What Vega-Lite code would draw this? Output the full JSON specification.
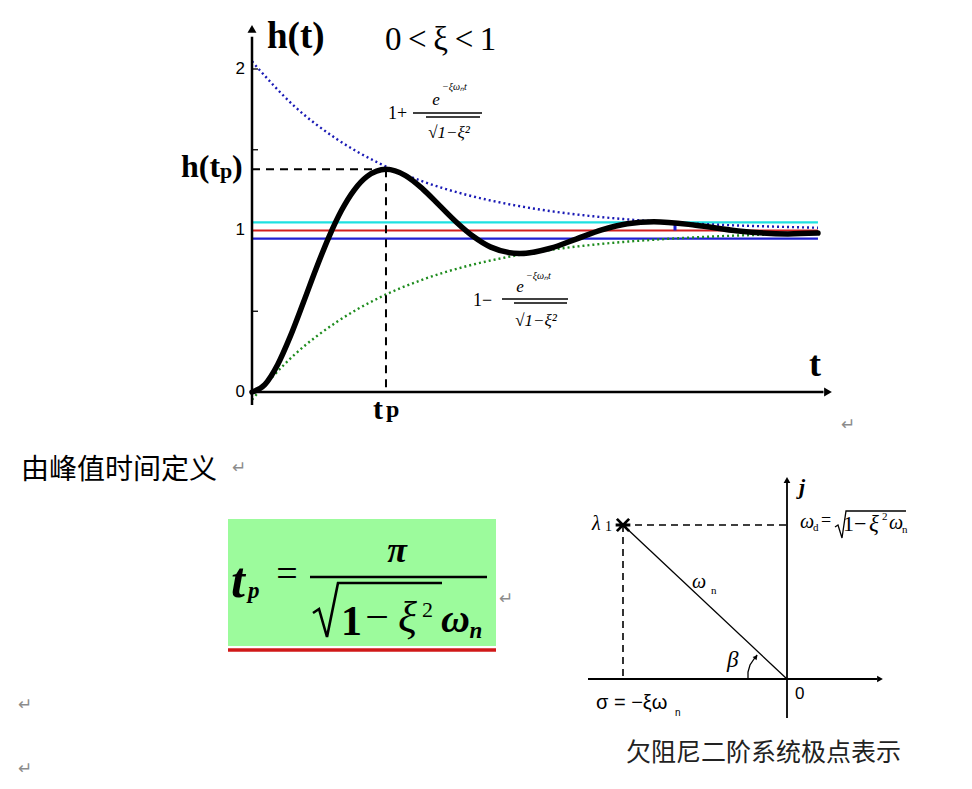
{
 "$schema": "https://vega.github.io/schema/vega-lite/v6.json",
 "width": 972, "height": 789,
 "autosize": {"type": "fit", "contains": "padding"},
 "padding": 0,
 "background": "#ffffff",
 "config": {"view": {"stroke": null}},
 "encoding": {
   "x": {"field": "t", "type": "quantitative", "scale": {"domain": [-5.90856, 16.8816], "nice": false, "zero": false}, "axis": null},
   "y": {"field": "h", "type": "quantitative", "scale": {"domain": [-2.4582, 2.42724], "nice": false, "zero": false}, "axis": null}
 },
 "layer": [
  {"data": {"values": [{"t": -0.5627, "t2": 5.721, "h": -0.7864, "h2": -1.5728}]},
   "mark": {"type": "rect", "color": "#9cfb9c"},
   "encoding": {"x2": {"field": "t2"}, "y2": {"field": "h2"}}},
  {"data": {"values": [
     {"t": 0, "t2": 13.27, "h": 1.05, "level": "+5%"},
     {"t": 0, "t2": 13.27, "h": 1.0, "level": "steady"},
     {"t": 0, "t2": 13.27, "h": 0.95, "level": "-5%"}]},
   "mark": {"type": "rule", "strokeWidth": 2.2},
   "encoding": {"x2": {"field": "t2"},
     "color": {"field": "level", "type": "nominal", "scale": {"domain": ["+5%", "steady", "-5%"], "range": ["#1fe0e0", "#d21f1f", "#1f1fd2"]}, "legend": null}}},
  {"data": {"values": [{"t": 9.918, "h": 1.0, "h2": 1.05}]},
   "mark": {"type": "rule", "color": "#1f1fd2", "strokeWidth": 3},
   "encoding": {"y2": {"field": "h2"}}},
  {"data": {"values": [
     {"t": 0, "h": 2.047}, {"t": 1, "h": 1.768}, {"t": 2, "h": 1.564}, {"t": 3, "h": 1.414},
     {"t": 4, "h": 1.304}, {"t": 5, "h": 1.223}, {"t": 6, "h": 1.164}, {"t": 7, "h": 1.12},
     {"t": 8, "h": 1.088}, {"t": 9, "h": 1.065}, {"t": 10, "h": 1.048}, {"t": 11, "h": 1.035},
     {"t": 12, "h": 1.026}, {"t": 13.27, "h": 1.017}]},
   "mark": {"type": "line", "color": "#1a1ab5", "strokeDash": [2, 3], "strokeWidth": 2.4, "interpolate": "monotone"},
   "encoding": {}},
  {"data": {"values": [
     {"t": 0, "h": -0.047}, {"t": 1, "h": 0.232}, {"t": 2, "h": 0.436}, {"t": 3, "h": 0.586},
     {"t": 4, "h": 0.696}, {"t": 5, "h": 0.777}, {"t": 6, "h": 0.836}, {"t": 7, "h": 0.88},
     {"t": 8, "h": 0.912}, {"t": 9, "h": 0.935}, {"t": 10, "h": 0.952}, {"t": 11, "h": 0.965},
     {"t": 12, "h": 0.974}, {"t": 13.27, "h": 0.983}]},
   "mark": {"type": "line", "color": "#1e8c1e", "strokeDash": [2, 3], "strokeWidth": 2.4, "interpolate": "monotone"},
   "encoding": {}},
  {"data": {"values": [
     {"t": 0, "h": 0}, {"t": 0.3, "h": 0.046}, {"t": 0.6, "h": 0.169}, {"t": 0.9, "h": 0.346},
     {"t": 1.2, "h": 0.551}, {"t": 1.5, "h": 0.762}, {"t": 1.8, "h": 0.958}, {"t": 2.1, "h": 1.125},
     {"t": 2.4, "h": 1.252}, {"t": 2.7, "h": 1.335}, {"t": 3.1416, "h": 1.379}, {"t": 3.6, "h": 1.34},
     {"t": 4.0, "h": 1.258}, {"t": 4.4, "h": 1.154}, {"t": 4.8, "h": 1.05}, {"t": 5.2, "h": 0.961},
     {"t": 5.6, "h": 0.897}, {"t": 6.2832, "h": 0.857}, {"t": 7.0, "h": 0.89}, {"t": 7.6, "h": 0.947},
     {"t": 8.2, "h": 1.004}, {"t": 8.8, "h": 1.042}, {"t": 9.4248, "h": 1.054}, {"t": 10.4, "h": 1.033},
     {"t": 11.4, "h": 0.997}, {"t": 12.566, "h": 0.979}, {"t": 13.27, "h": 0.984}]},
   "mark": {"type": "line", "color": "#000000", "strokeWidth": 5.5, "strokeCap": "round", "strokeJoin": "round", "interpolate": "monotone"},
   "encoding": {}},
  {"data": {"values": [
     {"t": 0, "t2": 3.1416, "h": 1.379, "h2": 1.379},
     {"t": 3.1416, "t2": 3.1416, "h": 1.379, "h2": 0}]},
   "mark": {"type": "rule", "color": "#000000", "strokeWidth": 2, "strokeDash": [8, 6]},
   "encoding": {"x2": {"field": "t2"}, "y2": {"field": "h2"}}},
  {"data": {"values": [
     {"t": 0, "t2": 0, "h": -0.0805, "h2": 2.2},
     {"t": 0, "t2": 13.4, "h": 0, "h2": 0},
     {"t": 1.3599, "t2": 5.51, "h": -1.1455, "h2": -1.1455}]},
   "mark": {"type": "rule", "color": "#000000", "strokeWidth": 2.5},
   "encoding": {"x2": {"field": "t2"}, "y2": {"field": "h2"}}},
  {"data": {"values": [{"t": -0.5627, "t2": 5.721, "h": -1.5975, "h2": -1.5975}]},
   "mark": {"type": "rule", "color": "#d01818", "strokeWidth": 3.5},
   "encoding": {"x2": {"field": "t2"}, "y2": {"field": "h2"}}},
  {"data": {"values": [
     {"t": 0, "t2": 0.1407, "h": 0.5, "h2": 0.5},
     {"t": 0, "t2": 0.1407, "h": 1.5, "h2": 1.5},
     {"t": 0, "t2": 0.1407, "h": 2.0, "h2": 2.0},
     {"t": 3.7749, "t2": 5.3927, "h": 1.7276, "h2": 1.7276},
     {"t": 4.0797, "t2": 5.3458, "h": 1.7028, "h2": 1.7028},
     {"t": 5.8617, "t2": 7.4091, "h": 0.5759, "h2": 0.5759},
     {"t": 6.143, "t2": 7.3857, "h": 0.5511, "h2": 0.5511},
     {"t": 8.6987, "t2": 12.544, "h": -0.8235, "h2": -1.7771}]},
   "mark": {"type": "rule", "color": "#000000", "strokeWidth": 1.3},
   "encoding": {"x2": {"field": "t2"}, "y2": {"field": "h2"}}},
  {"data": {"values": [
     {"t": 12.544, "t2": 12.544, "h": -2.0186, "h2": -0.56},
     {"t": 7.8781, "t2": 14.66, "h": -1.7771, "h2": -1.7771}]},
   "mark": {"type": "rule", "color": "#000000", "strokeWidth": 1.8},
   "encoding": {"x2": {"field": "t2"}, "y2": {"field": "h2"}}},
  {"data": {"values": [
     {"t": 8.6987, "t2": 12.544, "h": -0.8235, "h2": -0.8235},
     {"t": 8.6987, "t2": 8.6987, "h": -0.8235, "h2": -1.7771}]},
   "mark": {"type": "rule", "color": "#000000", "strokeWidth": 1.6, "strokeDash": [7, 5]},
   "encoding": {"x2": {"field": "t2"}, "y2": {"field": "h2"}}},
  {"data": {"values": [
     {"t": 1.4302, "h": -1.3684, "i": 1}, {"t": 1.5709, "h": -1.3437, "i": 2},
     {"t": 1.7585, "h": -1.517, "i": 3}, {"t": 2.0164, "h": -1.1827, "i": 4},
     {"t": 4.4549, "h": -1.1827, "i": 5}]},
   "mark": {"type": "line", "color": "#000000", "strokeWidth": 2.6, "strokeJoin": "miter"},
   "encoding": {"order": {"field": "i", "type": "quantitative"}}},
  {"data": {"values": [
     {"t": 13.6694, "h": -0.8359, "i": 1}, {"t": 13.7397, "h": -0.8235, "i": 2},
     {"t": 13.8335, "h": -0.904, "i": 3}, {"t": 13.9273, "h": -0.7368, "i": 4},
     {"t": 15.3341, "h": -0.7368, "i": 5}]},
   "mark": {"type": "line", "color": "#000000", "strokeWidth": 1.3},
   "encoding": {"order": {"field": "i", "type": "quantitative"}}},
  {"data": {"values": [
     {"t": 11.6295, "h": -1.7771, "i": 1}, {"t": 11.6295, "h": -1.7337, "i": 2},
     {"t": 11.6764, "h": -1.6904, "i": 3}, {"t": 11.7702, "h": -1.6533, "i": 4},
     {"t": 11.8406, "h": -1.6285, "i": 5}]},
   "mark": {"type": "line", "color": "#000000", "strokeWidth": 1.3},
   "encoding": {"order": {"field": "i", "type": "quantitative"}}},
  {"data": {"values": [{"t": 0, "h": 2.2477}]},
   "mark": {"type": "point", "shape": "triangle-up", "size": 80, "filled": true, "color": "#000000", "opacity": 1},
   "encoding": {}},
  {"data": {"values": [{"t": 13.5053, "h": 0}]},
   "mark": {"type": "point", "shape": "triangle-right", "size": 80, "filled": true, "color": "#000000", "opacity": 1},
   "encoding": {}},
  {"data": {"values": [{"t": 12.544, "h": -0.5449}]},
   "mark": {"type": "point", "shape": "triangle-up", "size": 45, "filled": true, "color": "#000000", "opacity": 1},
   "encoding": {}},
  {"data": {"values": [{"t": 14.7245, "h": -1.7771}]},
   "mark": {"type": "point", "shape": "triangle-right", "size": 45, "filled": true, "color": "#000000", "opacity": 1},
   "encoding": {}},
  {"data": {"values": [{"t": 11.8171, "h": -1.6409}]},
   "mark": {"type": "point", "shape": "triangle-up", "size": 26, "angle": 40, "filled": true, "color": "#000000", "opacity": 1},
   "encoding": {}},
  {"data": {"values": [{"t": 8.6987, "h": -0.8235}]},
   "mark": {"type": "point", "shape": "M-1,-1L1,1M-1,1L1,-1M-1.2,0L1.2,0", "size": 150, "filled": false, "strokeWidth": 2.8, "color": "#000000", "opacity": 1},
   "encoding": {}},
  {"data": {"values": [{"label": "h(t)", "t": 0.3517, "h": 2.13}]},
   "mark": {"type": "text", "font": "Liberation Serif", "fontSize": 37, "fontWeight": "bold", "align": "left", "baseline": "alphabetic", "color": "#000000"},
   "encoding": {"text": {"field": "label"}}},
  {"data": {"values": [{"label": "0\u2009<\u2009ξ\u2009<\u20091", "t": 3.1184, "h": 2.1176}]},
   "mark": {"type": "text", "font": "Liberation Serif", "fontSize": 33, "align": "left", "baseline": "alphabetic", "color": "#000000"},
   "encoding": {"text": {"field": "label"}}},
  {"data": {"values": [{"label": "h(t", "t": -1.6647, "h": 1.3313}, {"label": ")", "t": -0.4689, "h": 1.3313}]},
   "mark": {"type": "text", "font": "Liberation Serif", "fontSize": 32, "fontWeight": "bold", "align": "left", "baseline": "alphabetic", "color": "#000000"},
   "encoding": {"text": {"field": "label"}}},
  {"data": {"values": [{"label": "p", "t": -0.7503, "h": 1.3251}]},
   "mark": {"type": "text", "font": "Liberation Serif", "fontSize": 22, "fontWeight": "bold", "align": "left", "baseline": "alphabetic", "color": "#000000"},
   "encoding": {"text": {"field": "label"}}},
  {"data": {"values": [{"label": "t", "t": 2.837, "h": -0.1672}]},
   "mark": {"type": "text", "font": "Liberation Serif", "fontSize": 30, "fontWeight": "bold", "align": "left", "baseline": "alphabetic", "color": "#000000"},
   "encoding": {"text": {"field": "label"}}},
  {"data": {"values": [{"label": "p", "t": 3.1418, "h": -0.1548}]},
   "mark": {"type": "text", "font": "Liberation Serif", "fontSize": 24, "fontWeight": "bold", "align": "left", "baseline": "alphabetic", "color": "#000000"},
   "encoding": {"text": {"field": "label"}}},
  {"data": {"values": [{"label": "t", "t": 13.0598, "h": 0.0991}]},
   "mark": {"type": "text", "font": "Liberation Serif", "fontSize": 36, "fontWeight": "bold", "align": "left", "baseline": "alphabetic", "color": "#000000"},
   "encoding": {"text": {"field": "label"}}},
  {"data": {"values": [{"label": "0", "t": -0.1641, "h": 0}, {"label": "1", "t": -0.1641, "h": 1}, {"label": "2", "t": -0.1641, "h": 2}]},
   "mark": {"type": "text", "font": "Liberation Sans", "fontSize": 17, "align": "right", "baseline": "middle", "color": "#000000"},
   "encoding": {"text": {"field": "label"}}},
  {"data": {"values": [{"label": "1+", "t": 3.1888, "h": 1.7214}, {"label": "1−", "t": 5.1817, "h": 0.5635}]},
   "mark": {"type": "text", "font": "Liberation Serif", "fontSize": 18, "align": "left", "baseline": "middle", "color": "#000000"},
   "encoding": {"text": {"field": "label"}}},
  {"data": {"values": [{"label": "e", "t": 4.3142, "h": 1.808}, {"label": "e", "t": 6.2837, "h": 0.6502}]},
   "mark": {"type": "text", "font": "Liberation Serif", "fontSize": 17, "fontStyle": "italic", "align": "center", "baseline": "middle", "color": "#000000"},
   "encoding": {"text": {"field": "label"}}},
  {"data": {"values": [{"label": "−ξωₙt", "t": 4.4549, "h": 1.8885}, {"label": "−ξωₙt", "t": 6.4244, "h": 0.7183}]},
   "mark": {"type": "text", "font": "Liberation Serif", "fontSize": 10, "fontStyle": "italic", "align": "left", "baseline": "middle", "color": "#000000"},
   "encoding": {"text": {"field": "label"}}},
  {"data": {"values": [{"label": "√1−ξ²", "t": 4.619, "h": 1.6037}, {"label": "√1−ξ²", "t": 6.6589, "h": 0.4396}]},
   "mark": {"type": "text", "font": "Liberation Serif", "fontSize": 17, "fontStyle": "italic", "align": "center", "baseline": "middle", "color": "#000000"},
   "encoding": {"text": {"field": "label"}}},
  {"data": {"values": [{"label": "t", "t": -0.4924, "h": -1.2693}]},
   "mark": {"type": "text", "font": "Liberation Serif", "fontSize": 50, "fontWeight": "bold", "fontStyle": "italic", "align": "left", "baseline": "alphabetic", "color": "#000000"},
   "encoding": {"text": {"field": "label"}}},
  {"data": {"values": [{"label": "p", "t": -0.0938, "h": -1.2755}, {"label": "n", "t": 5.1, "h": -1.5232}]},
   "mark": {"type": "text", "font": "Liberation Serif", "fontSize": 23, "fontWeight": "bold", "fontStyle": "italic", "align": "left", "baseline": "alphabetic", "color": "#000000"},
   "encoding": {"text": {"field": "label"}}},
  {"data": {"values": [{"label": "=", "t": 0.8206, "h": -1.2043}]},
   "mark": {"type": "text", "font": "Liberation Serif", "fontSize": 38, "align": "center", "baseline": "alphabetic", "color": "#000000"},
   "encoding": {"text": {"field": "label"}}},
  {"data": {"values": [{"label": "π", "t": 3.3998, "h": -1.0526}]},
   "mark": {"type": "text", "font": "Liberation Serif", "fontSize": 36, "fontWeight": "bold", "fontStyle": "italic", "align": "center", "baseline": "alphabetic", "color": "#000000"},
   "encoding": {"text": {"field": "label"}}},
  {"data": {"values": [{"label": "1", "t": 2.0868, "h": -1.5046}]},
   "mark": {"type": "text", "font": "Liberation Serif", "fontSize": 42, "fontWeight": "bold", "align": "left", "baseline": "alphabetic", "color": "#000000"},
   "encoding": {"text": {"field": "label"}}},
  {"data": {"values": [{"label": "−", "t": 2.9308, "h": -1.4768}]},
   "mark": {"type": "text", "font": "Liberation Serif", "fontSize": 42, "align": "center", "baseline": "alphabetic", "color": "#000000"},
   "encoding": {"text": {"field": "label"}}},
  {"data": {"values": [{"label": "ξ", "t": 3.4232, "h": -1.4861}]},
   "mark": {"type": "text", "font": "Liberation Serif", "fontSize": 44, "fontStyle": "italic", "align": "left", "baseline": "alphabetic", "color": "#000000"},
   "encoding": {"text": {"field": "label"}}},
  {"data": {"values": [{"label": "2", "t": 3.9859, "h": -1.3932}]},
   "mark": {"type": "text", "font": "Liberation Serif", "fontSize": 22, "align": "left", "baseline": "alphabetic", "color": "#000000"},
   "encoding": {"text": {"field": "label"}}},
  {"data": {"values": [{"label": "ω", "t": 4.4314, "h": -1.4861}]},
   "mark": {"type": "text", "font": "Liberation Serif", "fontSize": 40, "fontWeight": "bold", "fontStyle": "italic", "align": "left", "baseline": "alphabetic", "color": "#000000"},
   "encoding": {"text": {"field": "label"}}},
  {"data": {"values": [
     {"label": "λ", "t": 7.9719, "h": -0.8545}, {"label": "ω", "t": 12.8488, "h": -0.8421},
     {"label": "ω", "t": 14.9355, "h": -0.8483}, {"label": "ω", "t": 10.3165, "h": -1.2136}]},
   "mark": {"type": "text", "font": "Liberation Serif", "fontSize": 20, "fontStyle": "italic", "align": "left", "baseline": "alphabetic", "color": "#000000"},
   "encoding": {"text": {"field": "label"}}},
  {"data": {"values": [{"label": "1", "t": 8.2767, "h": -0.8607}]},
   "mark": {"type": "text", "font": "Liberation Serif", "fontSize": 14, "align": "left", "baseline": "alphabetic", "color": "#000000"},
   "encoding": {"text": {"field": "label"}}},
  {"data": {"values": [
     {"label": "d", "t": 13.1535, "h": -0.8607},
     {"label": "2", "t": 14.7714, "h": -0.7926}, {"label": "n", "t": 15.2403, "h": -0.8731},
     {"label": "n", "t": 10.762, "h": -1.2508}]},
   "mark": {"type": "text", "font": "Liberation Serif", "fontSize": 11, "align": "left", "baseline": "alphabetic", "color": "#000000"},
   "encoding": {"text": {"field": "label"}}},
  {"data": {"values": [{"label": "=", "t": 13.3411, "h": -0.8297}]},
   "mark": {"type": "text", "font": "Liberation Serif", "fontSize": 18, "align": "left", "baseline": "alphabetic", "color": "#000000"},
   "encoding": {"text": {"field": "label"}}},
  {"data": {"values": [{"label": "1−", "t": 13.857, "h": -0.8607}]},
   "mark": {"type": "text", "font": "Liberation Serif", "fontSize": 22, "align": "left", "baseline": "alphabetic", "color": "#000000"},
   "encoding": {"text": {"field": "label"}}},
  {"data": {"values": [{"label": "ξ", "t": 14.4666, "h": -0.8607}, {"label": "β", "t": 11.1372, "h": -1.7028}]},
   "mark": {"type": "text", "font": "Liberation Serif", "fontSize": 23, "fontStyle": "italic", "align": "left", "baseline": "alphabetic", "color": "#000000"},
   "encoding": {"text": {"field": "label"}}},
  {"data": {"values": [{"label": "j", "t": 12.8253, "h": -0.6316}]},
   "mark": {"type": "text", "font": "Liberation Serif", "fontSize": 22, "fontWeight": "bold", "fontStyle": "italic", "align": "left", "baseline": "alphabetic", "color": "#000000"},
   "encoding": {"text": {"field": "label"}}},
  {"data": {"values": [{"label": "0", "t": 12.7315, "h": -1.9009}]},
   "mark": {"type": "text", "font": "Liberation Sans", "fontSize": 17, "align": "left", "baseline": "alphabetic", "color": "#000000"},
   "encoding": {"text": {"field": "label"}}},
  {"data": {"values": [{"label": "σ = −ξω", "t": 8.0657, "h": -1.9628}]},
   "mark": {"type": "text", "font": "Liberation Sans", "fontSize": 20, "align": "left", "baseline": "alphabetic", "color": "#000000"},
   "encoding": {"text": {"field": "label"}}},
  {"data": {"values": [{"label": "n", "t": 9.9179, "h": -2.0062}]},
   "mark": {"type": "text", "font": "Liberation Sans", "fontSize": 10, "align": "left", "baseline": "alphabetic", "color": "#000000"},
   "encoding": {"text": {"field": "label"}}},
  {"data": {"values": [{"label": "由峰值时间定义", "t": -5.4162, "h": -0.4892}]},
   "mark": {"type": "text", "font": "Noto Sans CJK SC", "fontSize": 28, "align": "left", "baseline": "middle", "color": "#000000"},
   "encoding": {"text": {"field": "label"}}},
  {"data": {"values": [{"label": "欠阻尼二阶系统极点表示", "t": 8.769, "h": -2.2353}]},
   "mark": {"type": "text", "font": "Noto Sans CJK SC", "fontSize": 25, "align": "left", "baseline": "middle", "color": "#222222"},
   "encoding": {"text": {"field": "label"}}},
  {"data": {"values": [
     {"label": "↵", "t": -0.4689, "h": -0.4706}, {"label": "↵", "t": 5.7913, "h": -1.2817},
     {"label": "↵", "t": 13.8101, "h": -0.2043}, {"label": "↵", "t": -5.4865, "h": -1.9381},
     {"label": "↵", "t": -5.4865, "h": -2.3344}]},
   "mark": {"type": "text", "font": "DejaVu Sans", "fontSize": 17, "align": "left", "baseline": "middle", "color": "#8c8c8c"},
   "encoding": {"text": {"field": "label"}}}
 ]
}
